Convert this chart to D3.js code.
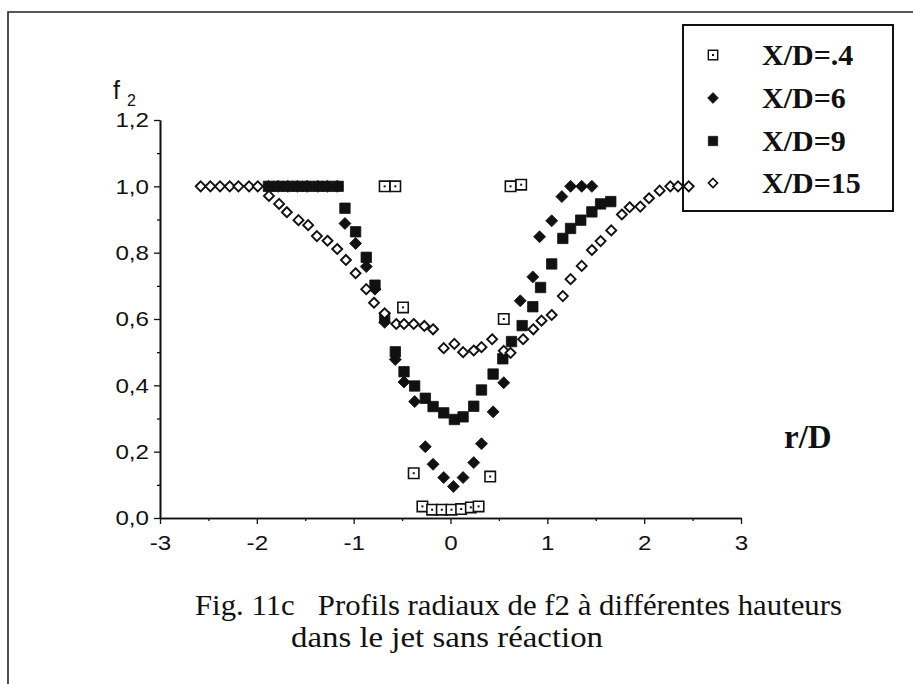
<!DOCTYPE html>
<html>
<head>
<meta charset="utf-8">
<script src="https://cdn.jsdelivr.net/npm/d3@7/dist/d3.min.js"></script>
<style>
  html, body { margin: 0; padding: 0; background: #fff; }
  svg { display: block; }
</style>
</head>
<body>
<svg id="chart" width="913" height="684"></svg>
<script>
// ---------------- DATA ----------------
const seriesNames = ["X/D=.4", "X/D=6", "X/D=9", "X/D=15"];

// X/D = .4  (open squares)
const r04 = [-0.68, -0.57, -0.49, -0.38, -0.29, -0.19, -0.09, 0.01, 0.11, 0.21, 0.29, 0.41, 0.55, 0.62, 0.73];
const f04 = [1.00, 1.00, 0.635, 0.135, 0.035, 0.025, 0.025, 0.025, 0.027, 0.032, 0.035, 0.125, 0.60, 1.00, 1.005];

// X/D = 6  (filled diamonds)
const r6 = [-1.88, -1.78, -1.68, -1.58, -1.48, -1.37, -1.27, -1.17, -1.09, -0.98, -0.87, -0.78, -0.68, -0.57, -0.48, -0.37, -0.26, -0.18, -0.07, 0.03, 0.13, 0.24, 0.32, 0.44, 0.55, 0.72, 0.85, 0.92, 1.045, 1.15, 1.24, 1.355, 1.46];
const f6 = [1.00, 1.00, 1.00, 1.00, 1.00, 1.00, 1.00, 1.00, 0.888, 0.828, 0.758, 0.69, 0.59, 0.478, 0.41, 0.351, 0.215, 0.162, 0.122, 0.095, 0.122, 0.167, 0.224, 0.32, 0.408, 0.655, 0.727, 0.848, 0.896, 0.969, 1.00, 1.00, 1.00];

// X/D = 9  (filled squares)
const r9 = [-1.88, -1.78, -1.68, -1.58, -1.48, -1.37, -1.27, -1.16, -1.09, -0.98, -0.87, -0.78, -0.68, -0.57, -0.48, -0.37, -0.26, -0.18, -0.07, 0.04, 0.13, 0.24, 0.32, 0.44, 0.54, 0.63, 0.74, 0.85, 0.93, 1.045, 1.16, 1.24, 1.345, 1.46, 1.55, 1.655];
const f9 = [1.00, 1.00, 1.00, 1.00, 1.00, 1.00, 1.00, 1.00, 0.934, 0.863, 0.786, 0.702, 0.605, 0.501, 0.441, 0.398, 0.361, 0.336, 0.317, 0.297, 0.305, 0.337, 0.386, 0.434, 0.48, 0.532, 0.58, 0.637, 0.695, 0.766, 0.843, 0.873, 0.898, 0.923, 0.947, 0.954];

// X/D = 15 (open diamonds)
const r15 = [-2.58, -2.48, -2.38, -2.28, -2.19, -2.08, -1.99, -1.875, -1.77, -1.69, -1.57, -1.47, -1.38, -1.27, -1.17, -1.08, -0.98, -0.87, -0.79, -0.68, -0.56, -0.48, -0.38, -0.27, -0.18, -0.07, 0.04, 0.13, 0.24, 0.32, 0.43, 0.55, 0.62, 0.75, 0.855, 0.94, 1.045, 1.16, 1.24, 1.355, 1.46, 1.55, 1.66, 1.77, 1.85, 1.96, 2.05, 2.16, 2.27, 2.35, 2.46];
const f15 = [1.00, 1.00, 1.00, 1.00, 1.00, 1.00, 1.00, 0.971, 0.947, 0.922, 0.898, 0.883, 0.850, 0.836, 0.811, 0.778, 0.738, 0.690, 0.649, 0.617, 0.585, 0.585, 0.585, 0.579, 0.569, 0.512, 0.525, 0.50, 0.505, 0.515, 0.539, 0.504, 0.498, 0.539, 0.569, 0.595, 0.612, 0.669, 0.72, 0.76, 0.808, 0.835, 0.867, 0.915, 0.937, 0.939, 0.964, 0.987, 1.00, 1.00, 1.00];

const xMajorTicks = [-3, -2, -1, 0, 1, 2, 3];
const xMinorTicks = [-2.5, -1.5, -0.5, 0.5, 1.5, 2.5];
const yMajorTicks = [0, 0.2, 0.4, 0.6, 0.8, 1.0, 1.2];
const yMinorTicks = [0.1, 0.3, 0.5, 0.7, 0.9, 1.1];

const captionLine1 = "Fig. 11c   Profils radiaux de f2 à différentes hauteurs";
const captionLine2 = "dans le jet sans réaction";

// ---------------- DRAW ----------------
const svg = d3.select("#chart");
const x = d3.scaleLinear().domain([-3, 3]).range([160, 741]);
const y = d3.scaleLinear().domain([0, 1.2]).range([518, 120]);

const ink = "#111";
const serif = "'Liberation Serif', 'Times New Roman', Times, serif";
const sans = "'Liberation Sans', Arial, Helvetica, sans-serif";

// outer figure frame (top + left)
svg.append("path")
  .attr("d", "M8,684 L8,12 L913,12")
  .attr("fill", "none").attr("stroke", "#222").attr("stroke-width", 1.6);

const fmt = d => d3.format(".1f")(d).replace(".", ",");

// y axis
const gy = svg.append("g").attr("transform", `translate(${x(-3)},0)`);
gy.call(d3.axisLeft(y).tickValues(yMajorTicks).tickFormat(fmt).tickSize(6).tickPadding(5).tickSizeOuter(0));
const gy2 = svg.append("g").attr("transform", `translate(${x(-3)},0)`);
gy2.call(d3.axisLeft(y).tickValues(yMinorTicks).tickFormat("").tickSize(3).tickSizeOuter(0));

// x axis
const gx = svg.append("g").attr("transform", `translate(0,${y(0)})`);
gx.call(d3.axisBottom(x).tickValues(xMajorTicks).tickFormat(d => String(d)).tickSize(6).tickPadding(11).tickSizeOuter(0));
const gx2 = svg.append("g").attr("transform", `translate(0,${y(0)})`);
gx2.call(d3.axisBottom(x).tickValues(xMinorTicks).tickFormat("").tickSize(3).tickSizeOuter(0));

svg.selectAll(".domain").attr("stroke", ink).attr("stroke-width", 1.6);
svg.selectAll(".tick line").attr("stroke", ink).attr("stroke-width", 1.3);
svg.selectAll(".tick text")
  .attr("font-family", sans)
  .attr("font-size", 21).attr("fill", ink);
svg.selectAll(".tick text").each(function() {
  const w = this.getComputedTextLength();
  if (w > 0) d3.select(this).attr("textLength", w * 1.15).attr("lengthAdjust", "spacingAndGlyphs");
});

// axis titles
svg.append("text").attr("x", 113).attr("y", 99)
  .attr("font-family", sans).attr("font-size", 25).attr("fill", ink).text("f");
svg.append("text").attr("x", 127).attr("y", 106)
  .attr("font-family", sans).attr("font-size", 16).attr("fill", ink).text("2");

svg.append("text").attr("x", 784).attr("y", 448)
  .attr("font-family", serif).attr("font-weight", "bold")
  .attr("font-size", 33).attr("fill", ink).text("r/D");

// markers
const diamond = h => `M0,${-h}L${h},0L0,${h}L${-h},0Z`;
const square = s => `M${-s},${-s}H${s}V${s}H${-s}Z`;

function zip(rs, fs) { return rs.map((r, i) => ({ r: r, f: fs[i] })); }

const styles = {
  "X/D=.4": { path: square(5.2), fill: "#fff", stroke: ink, sw: 1.6, dot: true },
  "X/D=6":  { path: diamond(6), fill: ink, stroke: ink, sw: 0.8, dot: false },
  "X/D=9":  { path: square(5.2), fill: ink, stroke: ink, sw: 0.8, dot: false },
  "X/D=15": { path: diamond(5), fill: "#fff", stroke: ink, sw: 1.9, dot: false }
};
const seriesData = {
  "X/D=.4": zip(r04, f04),
  "X/D=6": zip(r6, f6),
  "X/D=9": zip(r9, f9),
  "X/D=15": zip(r15, f15)
};

const drawOrder = ["X/D=6", "X/D=9", "X/D=15", "X/D=.4"];
drawOrder.forEach(name => {
  const st = styles[name];
  const g = svg.append("g");
  const pts = g.selectAll("g").data(seriesData[name]).enter().append("g")
    .attr("transform", d => `translate(${x(d.r)},${y(d.f)})`);
  pts.append("path").attr("d", st.path).attr("fill", st.fill)
    .attr("stroke", st.stroke).attr("stroke-width", st.sw);
  if (st.dot) pts.append("rect").attr("x", -1).attr("y", -1).attr("width", 2).attr("height", 2).attr("fill", ink);
});

// legend
svg.append("rect").attr("x", 683).attr("y", 25).attr("width", 210).attr("height", 186)
  .attr("fill", "#fff").attr("stroke", ink).attr("stroke-width", 2);
const legRows = [55, 98, 141, 183];
seriesNames.forEach((name, i) => {
  const st = styles[name];
  const g = svg.append("g").attr("transform", `translate(713,${legRows[i]})`);
  g.append("path").attr("d", st.path).attr("fill", st.fill).attr("stroke", st.stroke)
    .attr("stroke-width", st.sw).attr("transform", "scale(0.9)");
  if (st.dot) g.append("rect").attr("x", -1).attr("y", -1).attr("width", 2).attr("height", 2).attr("fill", ink);
  svg.append("text").attr("x", 762).attr("y", legRows[i] + 10)
    .attr("font-family", serif).attr("font-weight", "bold")
    .attr("font-size", 30).attr("fill", ink)
    .text(name);
});
// the last open diamond of X/D=15 overlaps the legend frame
(function() {
  const d = seriesData["X/D=15"][seriesData["X/D=15"].length - 1];
  svg.append("path").attr("d", styles["X/D=15"].path)
    .attr("transform", `translate(${x(d.r)},${y(d.f)})`)
    .attr("fill", "#fff").attr("stroke", ink).attr("stroke-width", 1.9);
})();

// caption
svg.append("text").attr("x", 195).attr("y", 615).attr("font-family", serif).attr("font-size", 30)
  .attr("fill", ink).style("white-space", "pre")
  .attr("textLength", 647).attr("lengthAdjust", "spacingAndGlyphs").text(captionLine1);
svg.append("text").attr("x", 291).attr("y", 647).attr("font-family", serif).attr("font-size", 30)
  .attr("fill", ink).attr("textLength", 312).attr("lengthAdjust", "spacingAndGlyphs").text(captionLine2);
</script>
</body>
</html>
